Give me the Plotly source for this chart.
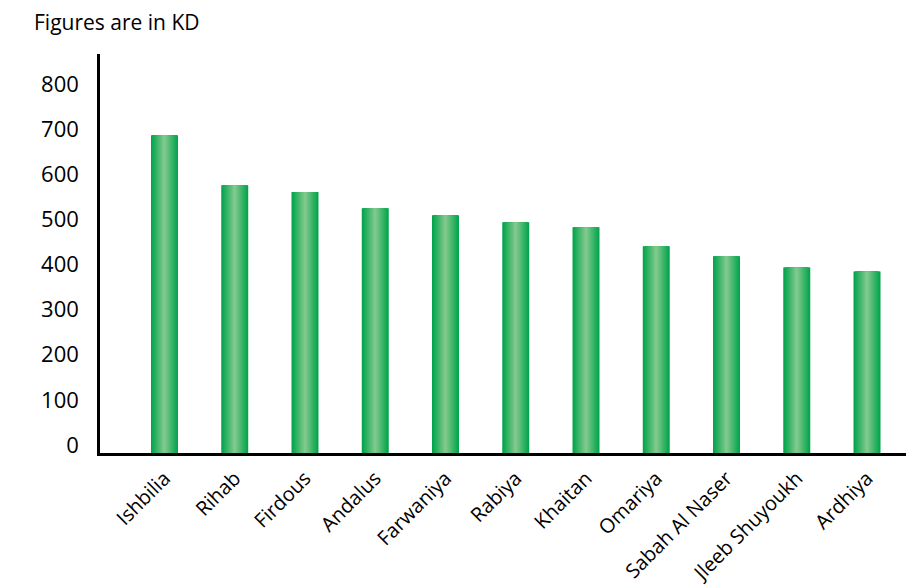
import plotly.graph_objects as go

# Average monthly figures by area (KD)
areas = ["Ishbilia", "Rihab", "Firdous", "Andalus", "Farwaniya", "Rabiya",
         "Khaitan", "Omariya", "Sabah Al Naser", "Jleeb Shuyoukh", "Ardhiya"]
values = [704, 593, 578, 542, 527, 511, 500, 458, 436, 411, 402]
y_ticks = [0, 100, 200, 300, 400, 500, 600, 700, 800]

FONT = "Open Sans"
bar_width = 0.384
edge_rgb = (2, 164, 76)
mid_rgb = (128, 201, 140)
layers = 14

fig = go.Figure()
# Horizontal gradient built from stacked bars of narrowing width
for i in range(layers):
    t = i / (layers - 1)
    w = bar_width * (1 - t * 0.93)
    c = tuple(round(e + (m - e) * t) for e, m in zip(edge_rgb, mid_rgb))
    fig.add_trace(go.Bar(
        x=list(range(len(areas))), y=values, width=w,
        marker=dict(color=f"rgb{c}", line=dict(width=0)),
        showlegend=False, hoverinfo="skip" if i else None,
    ))

fig.update_layout(
    width=906, height=588,
    margin=dict(l=100, r=0, t=54, b=135),
    plot_bgcolor="white", paper_bgcolor="white",
    barmode="overlay",
    font=dict(family=FONT, color="black"),
    xaxis=dict(
        range=[-0.918, 10.555], automargin=False,
        tickmode="array", tickvals=list(range(len(areas))), ticktext=areas,
        tickangle=-45, tickfont=dict(size=20, family=FONT),
        showline=True, linecolor="black", linewidth=2.5,
        showgrid=False, zeroline=False, ticks="", ticklabelstandoff=3,
    ),
    yaxis=dict(
        range=[0, 884], automargin=False,
        tickmode="array", tickvals=y_ticks,
        tickfont=dict(size=22, family=FONT),
        showline=True, linecolor="black", linewidth=2.5,
        showgrid=False, zeroline=False, ticks="",
        ticklabelstandoff=14, ticklabelshift=-8,
    ),
    annotations=[dict(
        text="Figures are in KD", xref="paper", yref="paper",
        x=-68 / 806, y=1 + 32 / 398, xanchor="left", yanchor="middle",
        showarrow=False, font=dict(size=21, family=FONT),
    )],
)

fig.write_html("out.html")
